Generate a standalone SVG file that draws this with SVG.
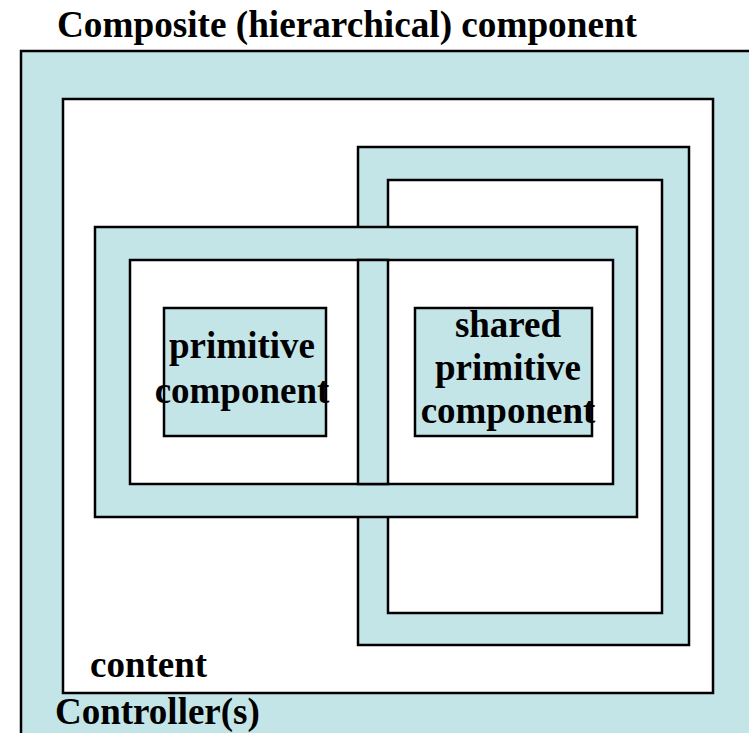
<svg xmlns="http://www.w3.org/2000/svg" width="749" height="733" viewBox="0 0 749 733">
  <style>
    .blue { fill: #c4e5e8; stroke: #000; stroke-width: 2.5; }
    .white { fill: #ffffff; stroke: #000; stroke-width: 2.5; }
    .lbl { font-family: "Liberation Serif", "Times New Roman", serif; font-weight: bold; font-size: 37px; fill: #000; }
    .mid { text-anchor: middle; }
  </style>
  <rect x="0" y="0" width="749" height="733" fill="#ffffff"/>
  <text class="lbl" x="57" y="37" textLength="580" lengthAdjust="spacingAndGlyphs">Composite (hierarchical) component</text>
  <g id="composite">
    <rect class="blue" x="21" y="51" width="760" height="720"/>
    <rect class="white" x="63" y="99" width="650" height="594"/>
    <text class="lbl" x="90" y="677">content</text>
    <text class="lbl" x="55" y="724">Controller(s)</text>
  </g>
  <g id="right-composite">
    <rect class="blue" x="358" y="147" width="331" height="498"/>
    <rect class="white" x="388" y="180" width="274" height="433"/>
  </g>
  <g id="left-composite">
    <rect class="blue" x="95" y="227" width="542" height="290"/>
    <rect class="white" x="130" y="260" width="483" height="224"/>
    <rect class="blue" x="358" y="260" width="30" height="224"/>
  </g>
  <g id="primitive">
    <rect class="blue" x="164" y="308" width="162" height="128"/>
    <text class="lbl mid" x="242" y="358">primitive</text>
    <text class="lbl mid" x="242" y="403">component</text>
  </g>
  <g id="shared-primitive">
    <rect class="blue" x="415" y="308" width="177" height="128"/>
    <text class="lbl mid" x="508" y="337">shared</text>
    <text class="lbl mid" x="508" y="380">primitive</text>
    <text class="lbl mid" x="508" y="423">component</text>
  </g>
  <g id="connectors"/>
</svg>
